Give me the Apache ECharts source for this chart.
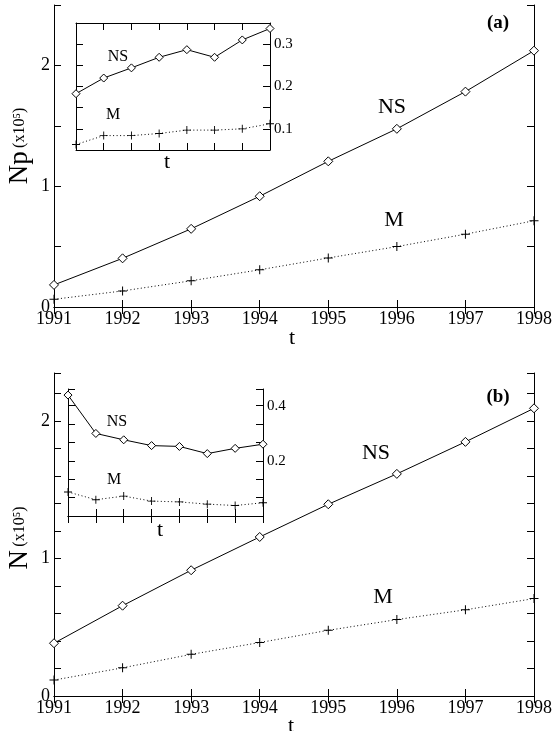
<!DOCTYPE html>
<html>
<head>
<meta charset="utf-8">
<script src="https://cdn.jsdelivr.net/npm/echarts@6/dist/echarts.min.js"></script>
<style>
  html, body { margin: 0; padding: 0; background: #fff; }
  #chart { width: 556px; height: 731px; }
</style>
</head>
<body>
<div id="chart"></div>
<script>
// years on the t axis
var years = ['1991', '1992', '1993', '1994', '1995', '1996', '1997', '1998'];

// panel (a): Np (x10^5)
var npNS = [0.183, 0.403, 0.647, 0.917, 1.206, 1.475, 1.783, 2.122];
var npM = [0.064, 0.133, 0.217, 0.308, 0.406, 0.500, 0.603, 0.714];
// panel (a) inset
var npInsetNS = [0.183, 0.220, 0.244, 0.269, 0.287, 0.269, 0.310, 0.337];
var npInsetM = [0.063, 0.084, 0.084, 0.089, 0.097, 0.097, 0.100, 0.112];

// panel (b): N (x10^5)
var nNS = [0.384, 0.657, 0.915, 1.157, 1.395, 1.616, 1.849, 2.093];
var nM = [0.116, 0.205, 0.303, 0.389, 0.478, 0.556, 0.627, 0.709];
// panel (b) inset
var nInsetNS = [0.438, 0.299, 0.276, 0.255, 0.252, 0.226, 0.245, 0.260];
var nInsetM = [0.087, 0.059, 0.072, 0.054, 0.051, 0.043, 0.038, 0.048];

var FONT = 'Liberation Serif';
var PLUS = 'path://M4,0H5V4H9V5H5V9H4V5H0V4H4Z';

var line = { show: true, lineStyle: { color: '#000', width: 1 } };

function xPair(grid, showLabels) {
  var base = {
    type: 'category', gridIndex: grid, data: years, boundaryGap: false,
    axisLine: line, splitLine: { show: false },
    axisTick: { show: true, inside: true, length: 7, interval: 0, lineStyle: { color: '#000' } }
  };
  var bottom = Object.assign({}, base, {
    position: 'bottom',
    axisLabel: { show: showLabels, interval: 0, margin: 3, color: '#000', fontFamily: FONT, fontSize: 18 }
  });
  var top = Object.assign({}, base, { position: 'top', axisLabel: { show: false } });
  return [bottom, top];
}

// labels: 'left' or 'right' side, fmt picks which ticks get text
function yPair(grid, min, max, step, side, fmt, fontSize) {
  function one(pos) {
    return {
      type: 'value', gridIndex: grid, position: pos, min: min, max: max, interval: step,
      axisLine: line, splitLine: { show: false },
      axisTick: { show: true, inside: true, length: 7, lineStyle: { color: '#000' } },
      axisLabel: {
        show: pos === side, margin: 4, color: '#000', fontFamily: FONT, fontSize: fontSize,
        formatter: fmt
      }
    };
  }
  return [one('left'), one('right')];
}

var intOnly = function (v) {
  return Math.abs(v - Math.round(v)) < 1e-6 ? String(Math.round(v)) : '';
};
var tenths = function (v) {
  var k = Math.round(v * 10);
  return Math.abs(v * 10 - k) < 1e-6 && k > 0 ? (k / 10).toFixed(1) : '';
};
var evenTenths = function (v) {
  var k = Math.round(v * 10);
  return Math.abs(v * 10 - k) < 1e-6 && k > 0 && k % 2 === 0 ? (k / 10).toFixed(1) : '';
};

function nsSeries(xi, yi, data, size) {
  return {
    type: 'line', xAxisIndex: xi, yAxisIndex: yi, data: data,
    symbol: 'diamond', symbolSize: size,
    lineStyle: { color: '#000', width: 1 },
    itemStyle: { color: '#fff', borderColor: '#000', borderWidth: 1 }
  };
}
function mSeries(xi, yi, data, size) {
  return {
    type: 'line', xAxisIndex: xi, yAxisIndex: yi, data: data,
    symbol: PLUS, symbolSize: size,
    lineStyle: { color: '#000', width: 1, type: [1, 2.5] },
    itemStyle: { color: '#000', borderWidth: 0 }
  };
}

function label(text, x, y, size, bold) {
  return {
    type: 'text', x: x, y: y, z: 100,
    style: {
      text: text, fill: '#000', fontFamily: FONT, fontSize: size,
      fontWeight: bold ? 'bold' : 'normal', align: 'center', verticalAlign: 'middle'
    }
  };
}
function yTitle(main, x, y) {
  return {
    type: 'text', x: x, y: y, rotation: Math.PI / 2, z: 100,
    style: {
      text: '{a|' + main + '} {b|(x10\u2075)}', fill: '#000', align: 'center', verticalAlign: 'middle',
      rich: {
        a: { fontFamily: FONT, fontSize: 27, fill: '#000' },
        b: { fontFamily: FONT, fontSize: 16, fill: '#000' }
      }
    }
  };
}

var chart = echarts.init(document.getElementById('chart'), null, { renderer: 'canvas' });

chart.setOption({
  animation: false,
  backgroundColor: '#fff',
  grid: [
    { left: 54, top: 5, width: 480, height: 302 },
    { left: 76, top: 23, width: 194, height: 127, show: true, backgroundColor: '#fff', borderWidth: 0 },
    { left: 54, top: 373, width: 480, height: 323 },
    { left: 68, top: 389, width: 195, height: 127, show: true, backgroundColor: '#fff', borderWidth: 0 }
  ],
  xAxis: [].concat(xPair(0, true), xPair(1, false), xPair(2, true), xPair(3, false)),
  yAxis: [].concat(
    yPair(0, 0, 2.5, 0.5, 'left', intOnly, 18),
    yPair(1, 0.05, 0.35, 0.05, 'right', tenths, 15),
    yPair(2, 0, 2.35, 0.2, 'left', intOnly, 18),
    yPair(3, 0, 0.46, 0.2 / 3, 'right', evenTenths, 15)
  ),
  series: [
    nsSeries(0, 0, npNS, 9),
    mSeries(0, 0, npM, 9),
    nsSeries(2, 2, npInsetNS, 8),
    mSeries(2, 2, npInsetM, 8),
    nsSeries(4, 4, nNS, 9),
    mSeries(4, 4, nM, 9),
    nsSeries(6, 6, nInsetNS, 8),
    mSeries(6, 6, nInsetM, 8)
  ],
  graphic: [
    yTitle('Np', 20, 146),
    label('t', 292, 338, 22),
    label('NS', 392, 107, 22),
    label('M', 394, 220, 22),
    label('(a)', 498, 23, 19, true),
    label('NS', 118, 57, 16),
    label('M', 113, 115, 16),
    label('t', 167, 162, 22),

    yTitle('N', 20, 538),
    label('t', 291, 726, 22),
    label('NS', 376, 453, 22),
    label('M', 383, 597, 22),
    label('(b)', 498, 397, 19, true),
    label('NS', 117, 422, 16),
    label('M', 114, 480, 16),
    label('t', 160, 530, 22)
  ]
});
</script>
</body>
</html>
